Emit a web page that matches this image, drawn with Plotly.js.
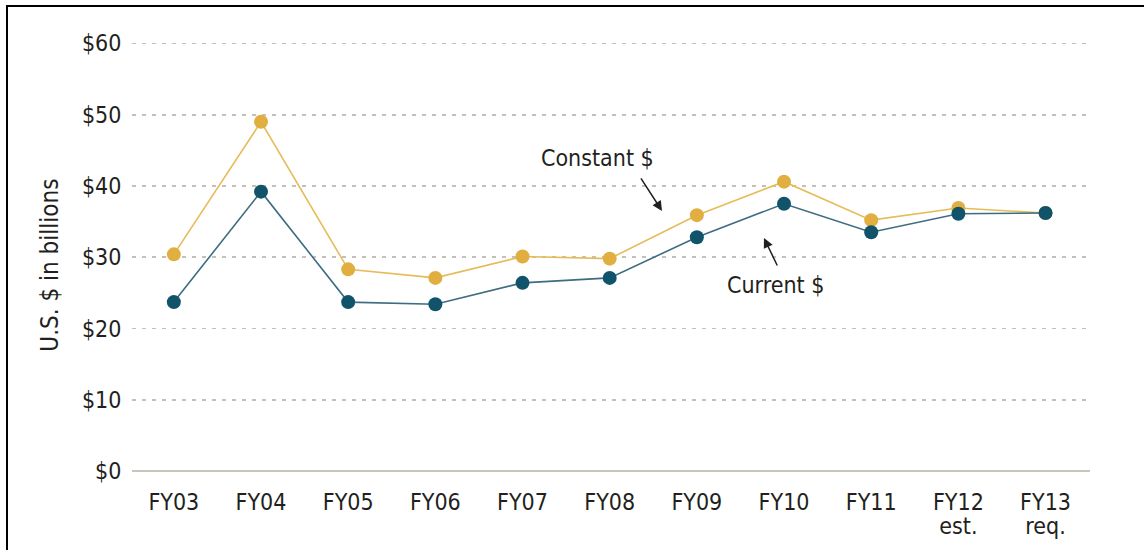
<!DOCTYPE html>
<html>
<head>
<meta charset="utf-8">
<script src="https://cdn.plot.ly/plotly-3.0.1.min.js"></script>
<style>
  html, body { margin: 0; padding: 0; background: #fff; }
  #frame { position: absolute; left: 6px; top: 5px; width: 1138px; height: 545px;
           border-top: 2px solid #000; border-left: 2px solid #000; box-sizing: border-box; }
  #chart { position: absolute; left: 0; top: 0; width: 1144px; height: 550px; }
</style>
</head>
<body>
<div id="frame"></div>
<div id="chart"></div>
<script>
// Fiscal years (x categories)
const categories = ["FY03", "FY04", "FY05", "FY06", "FY07", "FY08", "FY09", "FY10", "FY11", "FY12", "FY13"];
// Second line under some category labels
const subLabels = ["", "", "", "", "", "", "", "", "", "est.", "req."];
// Constant dollars (billions)
const constantValues = [30.4, 49.0, 28.3, 27.1, 30.1, 29.8, 35.9, 40.6, 35.2, 36.9, 36.2];
// Current dollars (billions)
const currentValues = [23.7, 39.2, 23.7, 23.4, 26.4, 27.1, 32.8, 37.5, 33.5, 36.1, 36.2];
// Y tick values and labels
const yTickVals = [0, 10, 20, 30, 40, 50, 60];
const yTickText = ["$0", "$10", "$20", "$30", "$40", "$50", "$60"];

const FONT = '"Liberation Sans Narrow", "DejaVu Sans Condensed", "Liberation Sans", sans-serif';
const TXT = '#231F20';
const xIdx = categories.map((_, i) => i);
const XR = [-0.48, 10.51];

const traces = [
  {
    x: xIdx, y: constantValues, type: 'scatter', mode: 'lines+markers', name: 'Constant $',
    line: { color: '#E6BC58', width: 1.6 },
    marker: { color: '#E0AF40', size: 14 },
    cliponaxis: false
  },
  {
    x: xIdx, y: currentValues, type: 'scatter', mode: 'lines+markers', name: 'Current $',
    line: { color: '#3E6C82', width: 1.6 },
    marker: { color: '#10536A', size: 14 },
    cliponaxis: false
  },
  {
    x: [], y: [], xaxis: 'x2', type: 'scatter', mode: 'markers', showlegend: false, hoverinfo: 'skip'
  }
];

const layout = {
  width: 1144, height: 550,
  margin: { l: 132, r: 54, t: 42, b: 79 },
  paper_bgcolor: 'rgba(0,0,0,0)', plot_bgcolor: 'rgba(0,0,0,0)',
  showlegend: false,
  font: { family: FONT, color: TXT, size: 23 },
  xaxis: {
    range: XR,
    tickvals: xIdx, ticktext: categories,
    showgrid: false, zeroline: false, showline: false,
    ticks: 'outside', ticklen: 10, tickcolor: 'rgba(0,0,0,0)',
    tickfont: { family: FONT, size: 23, color: TXT },
    fixedrange: true
  },
  xaxis2: {
    overlaying: 'x', side: 'bottom', anchor: 'y',
    range: XR,
    tickvals: xIdx, ticktext: subLabels,
    showgrid: false, zeroline: false, showline: false,
    ticks: 'outside', ticklen: 34, tickcolor: 'rgba(0,0,0,0)',
    tickfont: { family: FONT, size: 23, color: TXT },
    fixedrange: true
  },
  yaxis: {
    range: [0, 60.2],
    tickvals: yTickVals, ticktext: yTickText,
    showgrid: true, gridcolor: '#C2C0B8', gridwidth: 1.8, griddash: '4px,6px',
    zeroline: true, zerolinecolor: '#C9C5BD', zerolinewidth: 2,
    showline: false,
    ticks: 'outside', ticklen: 5, tickcolor: 'rgba(0,0,0,0)',
    tickfont: { family: FONT, size: 23, color: TXT },
    fixedrange: true
  },
  annotations: [
    {
      xref: 'paper', yref: 'paper', x: -0.085, y: 0.48,
      text: 'U.S. $ in billions', textangle: -90, showarrow: false,
      font: { family: FONT, size: 24, color: TXT },
      xanchor: 'center', yanchor: 'middle'
    },
    {
      x: 4.857, y: 43.9, text: 'Constant $', showarrow: false,
      font: { family: FONT, size: 23, color: TXT },
      xanchor: 'center', yanchor: 'middle'
    },
    {
      x: 5.6, y: 36.5, text: '', showarrow: true, ax: -22, ay: -34,
      arrowhead: 2, arrowsize: 1.3, arrowwidth: 1.5, arrowcolor: TXT, standoff: 0
    },
    {
      x: 6.9, y: 26.1, text: 'Current $', showarrow: false,
      font: { family: FONT, size: 23, color: TXT },
      xanchor: 'center', yanchor: 'middle'
    },
    {
      x: 6.77, y: 32.7, text: '', showarrow: true, ax: 14, ay: 29,
      arrowhead: 2, arrowsize: 1.3, arrowwidth: 1.5, arrowcolor: TXT, standoff: 0
    }
  ]
};

Plotly.newPlot('chart', traces, layout, { displayModeBar: false, staticPlot: true });
</script>
</body>
</html>
